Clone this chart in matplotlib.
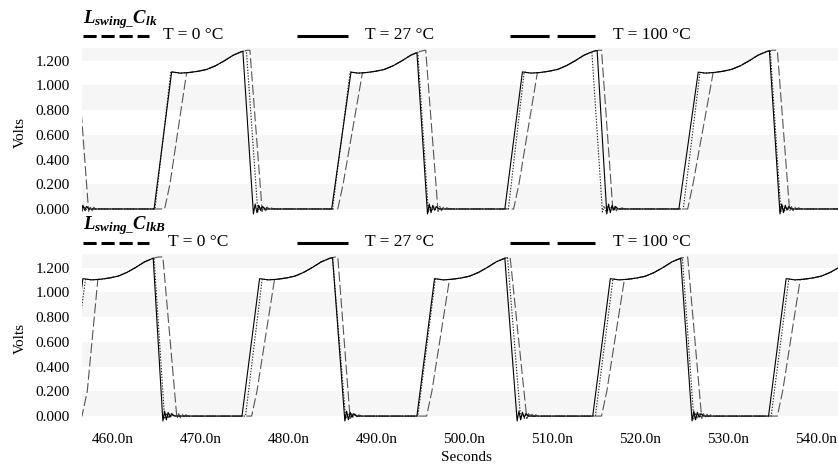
import numpy as np
import matplotlib
matplotlib.use("Agg")
import matplotlib.pyplot as plt
from matplotlib.lines import Line2D

plt.rcParams['font.family'] = ['Liberation Serif', 'DejaVu Serif']
plt.rcParams['mathtext.fontset'] = 'custom'
plt.rcParams['mathtext.it'] = 'Liberation Serif:italic:bold'
plt.rcParams['mathtext.rm'] = 'Liberation Serif:bold'
plt.rcParams['mathtext.bf'] = 'Liberation Serif:italic:bold'

# ---------------- data (times in ns, volts) ----------------
y_ticks = [0.0, 0.2, 0.4, 0.6, 0.8, 1.0, 1.2]
x_ticks = [460, 470, 480, 490, 500, 510, 520, 530, 540]
legend_labels = ["T = 0 \u00b0C", "T = 27 \u00b0C", "T = 100 \u00b0C"]
titles = [r"$L_{swing\_}C_{lk}$", r"$L_{swing\_}C_{lkB}$"]

# plateau shape: offset from pulse reference (ns) and level (V)
plat_dt = [2.0, 3.0, 4.0, 5.0, 6.0, 7.0, 8.0, 9.0, 10.0, 10.6]
plat_v = [1.11, 1.10, 1.105, 1.115, 1.13, 1.16, 1.20, 1.245, 1.275, 1.285]
# ringing after each falling edge: offset (ns), level (V)
ring_dt = [0.0, 0.2, 0.4, 0.6, 0.8, 1.0, 1.3, 1.8]
ring_v = [-0.04, 0.04, -0.03, 0.03, -0.01, 0.02, 0.0, 0.0]

# ---- top panel: L_swing_C_lk ----
top_ref = [444.7, 464.7, 484.9, 504.6, 524.4]
top_27_rise0 = [444.7, 464.7, 484.9, 504.6, 524.4]
top_27_rise1 = [446.7, 466.7, 487.1, 506.6, 526.6]
top_27_fall0 = [454.8, 474.8, 494.6, 515.1, 534.7]
top_27_fall1 = [456.0, 476.0, 495.8, 516.2, 535.9]

top_100_rise0 = [444.9, 464.8, 485.0, 505.0, 524.9]
top_100_rise1 = [446.8, 466.6, 487.0, 506.8, 526.8]
top_100_fall0 = [455.2, 475.2, 494.7, 514.5, 534.8]
top_100_fall1 = [456.5, 476.5, 495.9, 515.7, 536.0]

top_0_rise0 = [445.9, 465.9, 485.6, 505.6, 525.4]
top_0_rise1 = [448.4, 468.4, 488.4, 508.3, 528.3]
top_0_fall0 = [455.9, 475.6, 495.6, 515.6, 535.6]
top_0_fall1 = [457.25, 477.0, 497.0, 516.9, 537.0]

# ---- bottom panel: L_swing_C_lkB ----
bot_ref = [454.6, 474.7, 494.6, 514.6, 534.6]
bot_27_rise0 = [454.6, 474.7, 494.6, 514.6, 534.6]
bot_27_rise1 = [456.6, 476.7, 496.6, 516.6, 536.6]
bot_27_fall0 = [464.6, 485.0, 504.6, 524.6, 544.6]
bot_27_fall1 = [465.7, 486.4, 506.0, 525.9, 545.8]

bot_100_rise0 = [454.8, 475.1, 494.7, 514.9, 534.9]
bot_100_rise1 = [456.9, 477.0, 496.7, 516.9, 536.9]
bot_100_fall0 = [464.7, 485.0, 504.9, 524.8, 544.8]
bot_100_fall1 = [465.9, 486.5, 506.4, 526.1, 546.0]

bot_0_rise0 = [456.5, 475.8, 495.7, 515.6, 535.6]
bot_0_rise1 = [458.3, 478.4, 498.3, 518.2, 538.2]
bot_0_fall0 = [465.7, 485.6, 505.2, 525.4, 545.4]
bot_0_fall1 = [467.3, 487.0, 507.1, 527.0, 547.0]


def build(ref, r0, r1, f0, f1, knee=False, ring_scale=1.0):
    t, v = [430.0], [0.0]
    for i in range(len(ref)):
        t.append(r0[i]); v.append(0.0)
        if knee:
            t.append(r0[i] + 0.6); v.append(0.2)
        t.append(r1[i]); v.append(float(np.interp(r1[i] - ref[i], plat_dt, plat_v)))
        for d, pv in zip(plat_dt, plat_v):
            tt = ref[i] + d
            if r1[i] < tt < f0[i]:
                t.append(tt); v.append(pv)
        t.append(f0[i]); v.append(float(np.interp(f0[i] - ref[i], plat_dt, plat_v)))
        for d, rv in zip(ring_dt, ring_v):
            t.append(f1[i] + d); v.append(rv * ring_scale)
    t.append(560.0); v.append(0.0)
    return t, v


W, H = 838, 465
fig = plt.figure(figsize=(W / 100, H / 100), dpi=100)


def rect(x0, y0, x1, y1):
    return [x0 / W, 1 - y1 / H, (x1 - x0) / W, (y1 - y0) / H]


ax1 = fig.add_axes(rect(82, 47.8, 838, 216.4))
ax2 = fig.add_axes(rect(82, 254.5, 838, 423.5))

panels = [
    (ax1, top_ref,
     (top_0_rise0, top_0_rise1, top_0_fall0, top_0_fall1),
     (top_27_rise0, top_27_rise1, top_27_fall0, top_27_fall1),
     (top_100_rise0, top_100_rise1, top_100_fall0, top_100_fall1)),
    (ax2, bot_ref,
     (bot_0_rise0, bot_0_rise1, bot_0_fall0, bot_0_fall1),
     (bot_27_rise0, bot_27_rise1, bot_27_fall0, bot_27_fall1),
     (bot_100_rise0, bot_100_rise1, bot_100_fall0, bot_100_fall1)),
]

for ax, ref, s0, s27, s100 in panels:
    for lo, hi in [(0.0, 0.2), (0.4, 0.6), (0.8, 1.0), (1.2, 1.4)]:
        ax.axhspan(lo, hi, color='#f6f6f6', lw=0, zorder=0)
    t, v = build(ref, *s100, ring_scale=0.6)
    ax.plot(t, v, color='#222222', lw=0.8, dashes=(1.2, 1.4), zorder=2)
    t, v = build(ref, *s0, knee=True, ring_scale=0.5)
    ax.plot(t, v, color='#555555', lw=0.8, dashes=(9, 3), zorder=2)
    t, v = build(ref, *s27)
    ax.plot(t, v, color='black', lw=0.8, zorder=3)
    ax.set_xlim(456.5, 542.5)
    ax.set_ylim(-0.06, 1.305)
    for sp in ax.spines.values():
        sp.set_visible(False)
    ax.set_yticks(y_ticks)
    ax.set_yticklabels([f"{y:.3f}" for y in y_ticks], fontsize=11)
    ax.tick_params(axis='both', length=0, pad=9)
    ax.set_xticks(x_ticks)

ax1.set_xticklabels([])
ax2.set_xticklabels([f"{x:.1f}n" for x in x_ticks], fontsize=11)
ax2.tick_params(axis='x', pad=7)

fig.text(20 / W, 1 - 133 / H, "Volts", rotation=90, ha='center', va='center', fontsize=11)
fig.text(20 / W, 1 - 338 / H, "Volts", rotation=90, ha='center', va='center', fontsize=11)
fig.text(466 / W, 1 - 451 / H, "Seconds", ha='center', va='top', fontsize=11)

# legends
for title, ly, ty, tx0 in [(titles[0], 36, 20, 163), (titles[1], 243, 226, 168)]:
    fig.text(83 / W, 1 - ty / H, title, ha='left', va='center', fontsize=13.5)
    fig.add_artist(Line2D([83 / W, 149 / W], [1 - ly / H] * 2, color='black', lw=2.2,
                          dashes=(4.3, 1.6), solid_capstyle='butt', dash_capstyle='butt'))
    fig.add_artist(Line2D([297 / W, 348 / W], [1 - ly / H] * 2, color='black', lw=2.2,
                          solid_capstyle='butt'))
    fig.add_artist(Line2D([510 / W, 595 / W], [1 - ly / H] * 2, color='black', lw=2.2,
                          dashes=(12.8, 2.6), solid_capstyle='butt', dash_capstyle='butt'))
    fig.text(tx0 / W, 1 - (ly - 1) / H, legend_labels[0], ha='left', va='center', fontsize=12.5)
    fig.text(365 / W, 1 - (ly - 1) / H, legend_labels[1], ha='left', va='center', fontsize=12.5)
    fig.text(613 / W, 1 - (ly - 1) / H, legend_labels[2], ha='left', va='center', fontsize=12.5)

fig.savefig("out.png", dpi=100)
